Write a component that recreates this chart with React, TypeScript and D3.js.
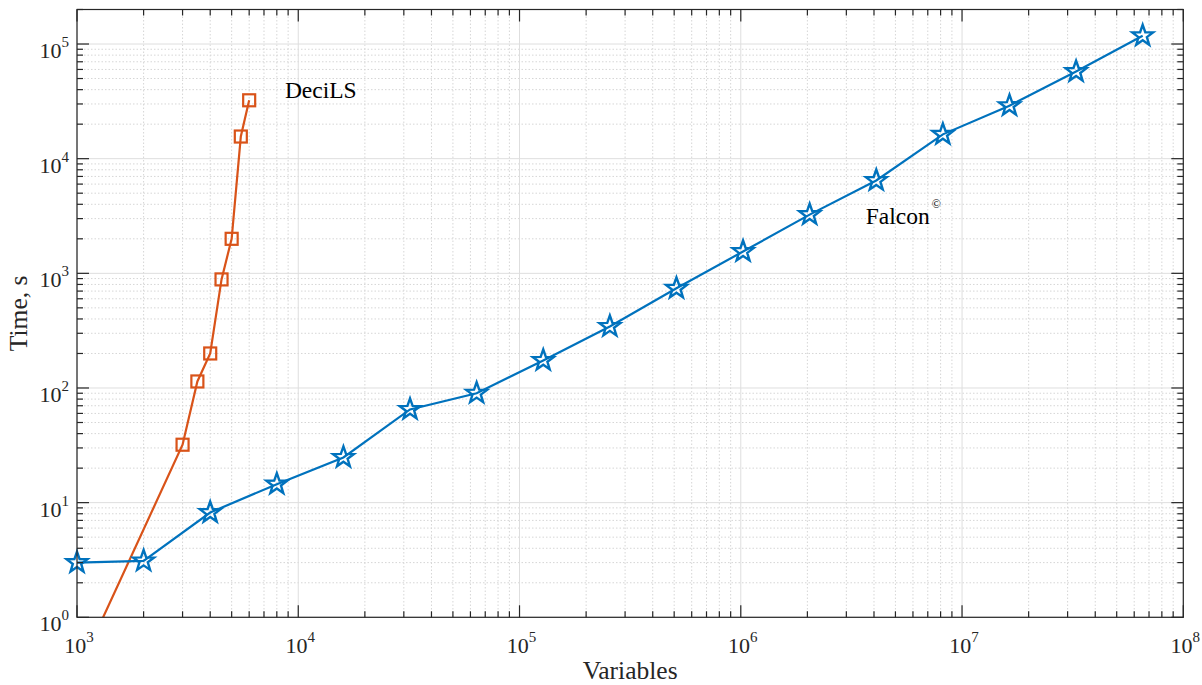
import { useEffect, useRef } from "react";
import * as d3 from "d3";

// Falcon run times (variables vs seconds)
const falconVars = [1e3, 2e3, 4e3, 8e3, 16e3, 32e3, 64e3, 128e3, 256e3, 512e3, 1024e3, 2048e3, 4096e3, 8192e3, 16384e3, 32768e3, 65536e3];
const falconTime = [3.0, 3.1, 8.2, 14.5, 24.8, 65, 90, 174, 344, 740, 1550, 3250, 6450, 16300, 29000, 57500, 118000];

// DeciLS run times
const decilsVars = [1000, 3000, 3500, 4000, 4500, 5000, 5500, 6000];
const decilsTime = [0.32, 32, 114, 200, 885, 2000, 15600, 32300];

const xDecades = [3, 4, 5, 6, 7, 8];
const yDecades = [0, 1, 2, 3, 4, 5];

const labels = [
  { text: "DeciLS", x: 8700, y: 34100, sup: "" },
  { text: "Falcon", x: 3.67e6, y: 2720, sup: "©" },
];

const W = 1202;
const H = 685;
const FONT = "'Liberation Serif', 'DejaVu Serif', serif";
const BLUE = "#0072BD";
const ORANGE = "#D95319";
const AXIS = "#262626";

function starPath(r: number) {
  const pts: [number, number][] = [];
  for (let i = 0; i < 10; i++) {
    const rad = i % 2 === 0 ? r : r * 0.4;
    const a = -Math.PI / 2 + (i * Math.PI) / 5;
    pts.push([rad * Math.cos(a), rad * Math.sin(a)]);
  }
  return "M" + pts.map((p) => p.join(",")).join("L") + "Z";
}

export default function App() {
  const svgRef = useRef<SVGSVGElement | null>(null);

  useEffect(() => {
    if (!svgRef.current) return;
    const svg = d3.select(svgRef.current);
    svg.selectAll("*").remove();

    const margin = { top: 9.5, right: W - 1183.3, bottom: H - 617.3, left: 77 };
    const iw = W - margin.left - margin.right;
    const ih = H - margin.top - margin.bottom;

    const x = d3.scaleLog().domain([1e3, 1e8]).range([0, iw]);
    const y = d3.scaleLog().domain([1, 2e5]).range([ih, 0]);

    svg.append("rect").attr("width", W).attr("height", H).attr("fill", "#fff");

    const g = svg.append("g").attr("transform", `translate(${margin.left},${margin.top})`);

    svg.append("defs").append("clipPath").attr("id", "plot-clip")
      .append("rect").attr("width", iw).attr("height", ih);

    // tick value sets
    const xMajor = xDecades.map((d) => Math.pow(10, d));
    const yMajor = yDecades.map((d) => Math.pow(10, d));
    const xMinor: number[] = [];
    xDecades.slice(0, -1).forEach((d) => {
      for (let k = 2; k <= 9; k++) xMinor.push(k * Math.pow(10, d));
    });
    const yMinor: number[] = [];
    yDecades.forEach((d) => {
      for (let k = 2; k <= 9; k++) {
        const v = k * Math.pow(10, d);
        if (v <= 2e5) yMinor.push(v);
      }
    });

    // minor grid (dotted)
    const grid = g.append("g");
    xMinor.forEach((v) => {
      grid.append("line").attr("x1", x(v)).attr("x2", x(v)).attr("y1", 0).attr("y2", ih)
        .attr("stroke", "#d6d6d6").attr("stroke-width", 1).attr("stroke-dasharray", "1.5,2");
    });
    yMinor.forEach((v) => {
      grid.append("line").attr("x1", 0).attr("x2", iw).attr("y1", y(v)).attr("y2", y(v))
        .attr("stroke", "#d6d6d6").attr("stroke-width", 1).attr("stroke-dasharray", "1.5,2");
    });
    // major grid (solid)
    xMajor.forEach((v) => {
      grid.append("line").attr("x1", x(v)).attr("x2", x(v)).attr("y1", 0).attr("y2", ih)
        .attr("stroke", "#dedede").attr("stroke-width", 1);
    });
    yMajor.forEach((v) => {
      grid.append("line").attr("x1", 0).attr("x2", iw).attr("y1", y(v)).attr("y2", y(v))
        .attr("stroke", "#dedede").attr("stroke-width", 1);
    });

    // data lines (clipped), markers drawn unclipped when inside limits
    const plot = g.append("g").attr("clip-path", "url(#plot-clip)");
    const marks = g.append("g");

    const line = d3.line<[number, number]>().x((d) => x(d[0])).y((d) => y(d[1]));
    const inside = (d: [number, number]) =>
      d[0] >= 1e3 && d[0] <= 1e8 && d[1] >= 1 && d[1] <= 2e5;

    const decils = decilsVars.map((v, i) => [v, decilsTime[i]] as [number, number]);
    const falcon = falconVars.map((v, i) => [v, falconTime[i]] as [number, number]);

    plot.append("path").datum(decils).attr("d", line)
      .attr("fill", "none").attr("stroke", ORANGE).attr("stroke-width", 2.2);
    marks.selectAll(".sq").data(decils.filter(inside)).enter().append("rect")
      .attr("x", (d) => x(d[0]) - 6).attr("y", (d) => y(d[1]) - 6)
      .attr("width", 12).attr("height", 12)
      .attr("fill", "none").attr("stroke", ORANGE).attr("stroke-width", 2.2);

    plot.append("path").datum(falcon).attr("d", line)
      .attr("fill", "none").attr("stroke", BLUE).attr("stroke-width", 2.2);
    const star = starPath(11);
    marks.selectAll(".st").data(falcon.filter(inside)).enter().append("path")
      .attr("d", star)
      .attr("transform", (d) => `translate(${x(d[0])},${y(d[1])})`)
      .attr("fill", "none").attr("stroke", BLUE).attr("stroke-width", 2.4)
      .attr("stroke-linejoin", "miter");

    // box + ticks on all sides
    const ax = g.append("g").attr("stroke", AXIS).attr("stroke-width", 1.2);
    ax.append("rect").attr("width", iw).attr("height", ih).attr("fill", "none");
    const tick = (x1: number, y1: number, x2: number, y2: number) =>
      ax.append("line").attr("x1", x1).attr("y1", y1).attr("x2", x2).attr("y2", y2);
    xMajor.forEach((v) => {
      tick(x(v), ih, x(v), ih - 12);
      tick(x(v), 0, x(v), 12);
    });
    xMinor.forEach((v) => {
      tick(x(v), ih, x(v), ih - 6);
      tick(x(v), 0, x(v), 6);
    });
    yMajor.forEach((v) => {
      tick(0, y(v), 12, y(v));
      tick(iw, y(v), iw - 12, y(v));
    });
    yMinor.forEach((v) => {
      tick(0, y(v), 6, y(v));
      tick(iw, y(v), iw - 6, y(v));
    });

    // tick labels
    xDecades.forEach((d) => {
      const t = g.append("text")
        .attr("x", x(Math.pow(10, d)) + 2).attr("y", ih + 36)
        .attr("text-anchor", "middle").attr("font-family", FONT)
        .attr("font-size", 22).attr("fill", AXIS);
      t.append("tspan").text("10");
      t.append("tspan").attr("dy", -11).attr("font-size", 15).text(String(d));
    });
    yDecades.forEach((d) => {
      const t = g.append("text")
        .attr("x", -8).attr("y", y(Math.pow(10, d)) + 14)
        .attr("text-anchor", "end").attr("font-family", FONT)
        .attr("font-size", 22).attr("fill", AXIS);
      t.append("tspan").text("10");
      t.append("tspan").attr("dy", -11).attr("font-size", 15).text(String(d));
    });

    // axis titles
    svg.append("text")
      .attr("x", margin.left + iw / 2).attr("y", 679)
      .attr("text-anchor", "middle").attr("font-family", FONT)
      .attr("font-size", 25.5).attr("fill", AXIS).text("Variables");
    svg.append("text")
      .attr("transform", `translate(27,${margin.top + ih / 2}) rotate(-90)`)
      .attr("text-anchor", "middle").attr("font-family", FONT)
      .attr("font-size", 25.5).attr("fill", AXIS).text("Time, s");

    // series labels
    labels.forEach((l) => {
      const t = g.append("text")
        .attr("x", x(l.x)).attr("y", y(l.y))
        .attr("font-family", FONT).attr("font-size", 23.5).attr("fill", "#000");
      t.append("tspan").text(l.text);
      if (l.sup) t.append("tspan").attr("dx", 2).attr("dy", -16).attr("font-size", 12).text(l.sup);
    });
  }, []);

  return (
    <div style={{ position: "fixed", left: 0, top: 0 }}>
      <svg ref={svgRef} width={W} height={H} style={{ display: "block" }} />
    </div>
  );
}
